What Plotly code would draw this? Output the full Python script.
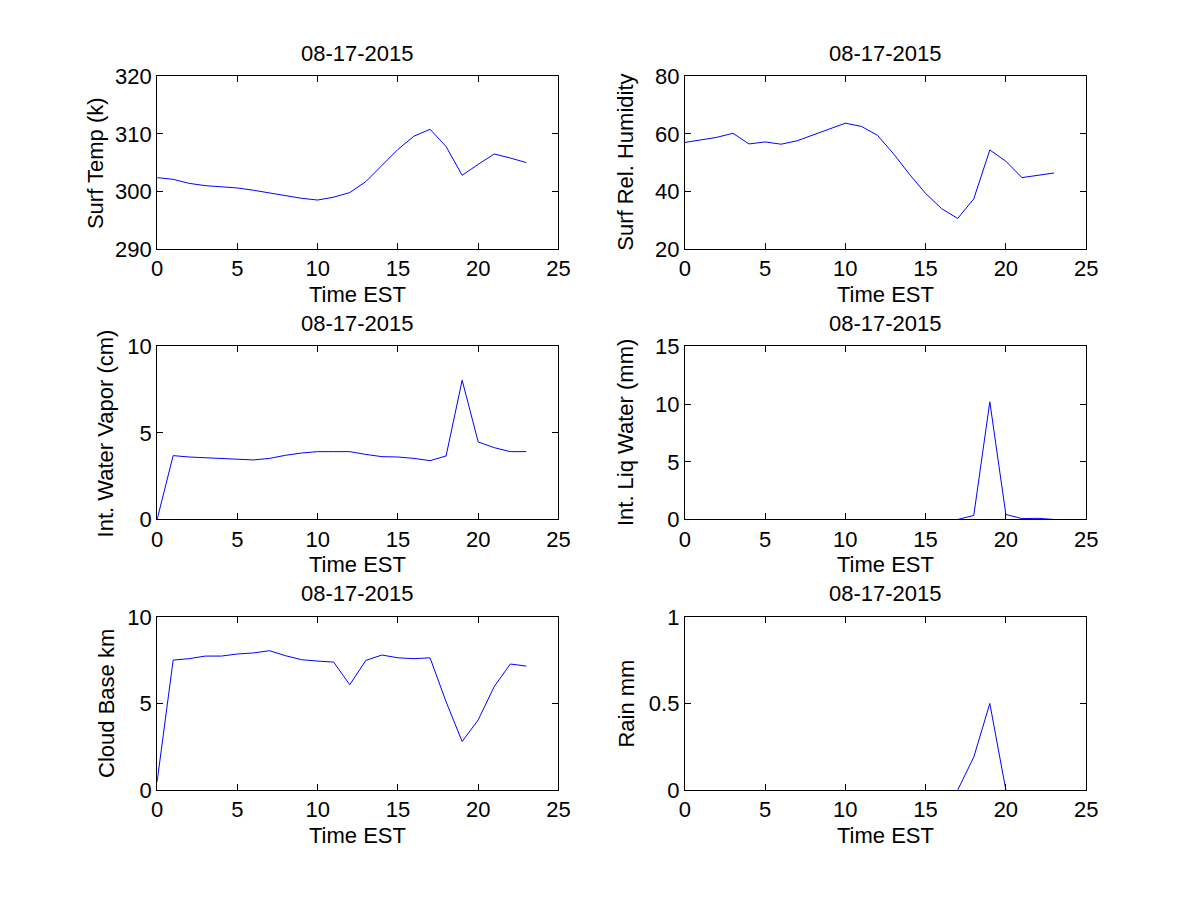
import plotly.graph_objects as go

hours = list(range(24))
date_label = "08-17-2015"

surf_temp = [302.4, 302.1, 301.4, 301.0, 300.8, 300.6, 300.2, 299.7, 299.2, 298.8,
             298.5, 299.0, 299.8, 301.7, 304.5, 307.3, 309.6, 310.8, 307.8, 302.8,
             304.7, 306.5, 305.8, 305.0]
surf_rh = [57.0, 58.0, 58.8, 60.2, 56.5, 57.2, 56.4, 57.6, 59.6, 61.7,
           63.7, 62.6, 59.5, 53.1, 45.9, 39.3, 34.0, 30.6, 37.4, 54.4,
           50.5, 44.8, 45.5, 46.4]
water_vapor = [0.0, 3.69, 3.61, 3.57, 3.55, 3.51, 3.44, 3.53, 3.71, 3.84,
               3.92, 3.92, 3.92, 3.76, 3.63, 3.61, 3.53, 3.40, 3.67, 8.05,
               4.48, 4.15, 3.92, 3.92]
liq_water = [None] * 17 + [0.0, 0.35, 10.2, 0.43, 0.08, 0.1, 0.0]
cloud_base = [0.48, 7.51, 7.59, 7.74, 7.74, 7.86, 7.92, 8.05, 7.76, 7.53,
              7.45, 7.39, 6.08, 7.49, 7.80, 7.64, 7.59, 7.64, 5.1, 2.80,
              4.05, 5.98, 7.28, 7.16]
rain = [None] * 17 + [0.0, 0.19, 0.50, 0.0, None, None, None]

x_ticks = [0, 5, 10, 15, 20, 25]
panels = [
    dict(y=surf_temp, ylabel="Surf Temp (k)", yrange=[290, 320], yticks=[290, 300, 310, 320]),
    dict(y=surf_rh, ylabel="Surf Rel. Humidity", yrange=[20, 80], yticks=[20, 40, 60, 80]),
    dict(y=water_vapor, ylabel="Int. Water Vapor (cm)", yrange=[0, 10], yticks=[0, 5, 10]),
    dict(y=liq_water, ylabel="Int. Liq Water (mm)", yrange=[0, 15], yticks=[0, 5, 10, 15]),
    dict(y=cloud_base, ylabel="Cloud Base km", yrange=[0, 10], yticks=[0, 5, 10]),
    dict(y=rain, ylabel="Rain mm", yrange=[0, 1], yticks=[0, 0.5, 1]),
]

W, H = 1184, 884
# target positions in the photographed page (pixels)
col_px = [(156.7, 558.3), (684.7, 1086.3)]
row_px = [(77.7, 250.0), (347.3, 520.0), (617.3, 790.0)]
ylabel_x_px = [[95, 626], [106, 626], [106, 626]]

# measured mapping between figure pixels and photographed pixels
SX, OX = 0.9854, 13.5
SY, OY = 0.9757, 19.0
YC, YK = 434.0, 0.994

FONT = "Liberation Sans, Arial, Helvetica, sans-serif"
FS = 22


def px_x(v):
    return ((v - OX) / SX) / W


def px_y(v):
    v = YC + (v - YC) / YK
    return 1 - ((v - OY) / SY) / H


fig = go.Figure()
layout = dict(width=W, height=H, margin=dict(l=0, r=0, t=0, b=0),
              paper_bgcolor="white", plot_bgcolor="white", showlegend=False,
              font=dict(family=FONT, size=FS, color="black"))
annotations = []

for i, p in enumerate(panels):
    r, c = divmod(i, 2)
    n = i + 1
    xa = "xaxis" if n == 1 else f"xaxis{n}"
    ya = "yaxis" if n == 1 else f"yaxis{n}"
    xref = "x" if n == 1 else f"x{n}"
    yref = "y" if n == 1 else f"y{n}"
    x0, x1 = col_px[c]
    t, b = row_px[r]
    fig.add_trace(go.Scatter(x=hours, y=p["y"], mode="lines",
                             line=dict(color="#0000FF", width=1),
                             connectgaps=False,
                             xaxis=xref, yaxis=yref, hoverinfo="skip"))
    common = dict(showline=True, linecolor="black", linewidth=1, mirror="ticks",
                  ticks="inside", ticklen=6, tickcolor="black", showgrid=False,
                  zeroline=False, tickfont=dict(family=FONT, size=FS, color="black"))
    layout[xa] = dict(domain=[px_x(x0), px_x(x1)], range=[0, 25], tickmode="array",
                      tickvals=x_ticks, ticktext=[str(v) for v in x_ticks],
                      anchor=yref, **common)
    layout[ya] = dict(domain=[px_y(b), px_y(t)], range=p["yrange"], tickmode="array",
                      tickvals=p["yticks"], ticktext=[f"{v:g}" for v in p["yticks"]],
                      anchor=xref, **common)
    cx = px_x((x0 + x1) / 2)
    annotations.append(dict(text=date_label, x=cx, y=px_y(t - 23), xref="paper", yref="paper",
                            xanchor="center", yanchor="middle", showarrow=False,
                            font=dict(family=FONT, size=FS, color="black")))
    annotations.append(dict(text="Time EST", x=cx, y=px_y(b + 45), xref="paper", yref="paper",
                            xanchor="center", yanchor="middle", showarrow=False,
                            font=dict(family=FONT, size=FS, color="black")))
    annotations.append(dict(text=p["ylabel"], x=px_x(ylabel_x_px[r][c]), y=px_y((t + b) / 2),
                            xref="paper", yref="paper", xanchor="center", yanchor="middle",
                            textangle=-90, showarrow=False,
                            font=dict(family=FONT, size=FS, color="black")))

layout["annotations"] = annotations
fig.update_layout(**layout)
fig.write_html("out.html")
